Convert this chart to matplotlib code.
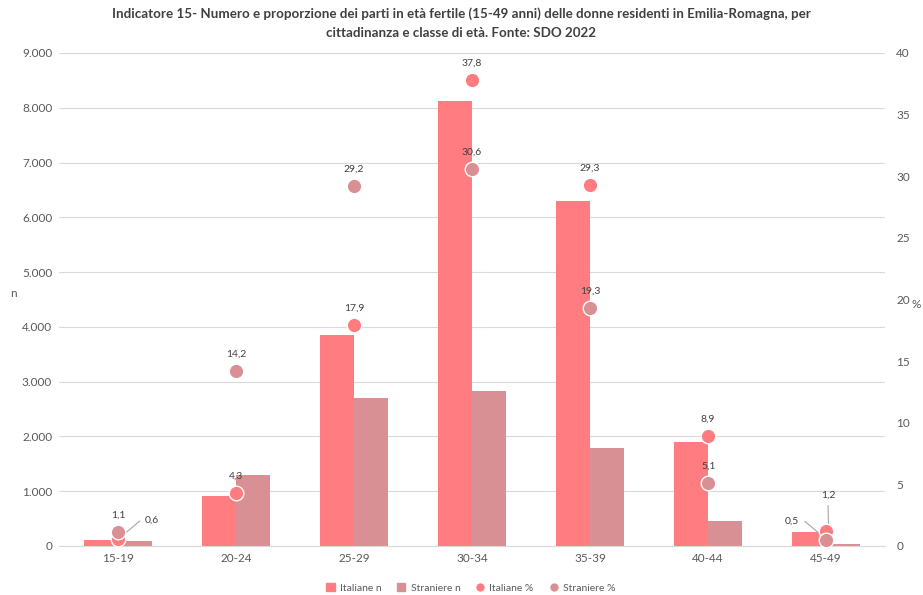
import matplotlib
matplotlib.use("Agg")
import matplotlib.pyplot as plt
import numpy as np
from matplotlib.ticker import FuncFormatter
from matplotlib.lines import Line2D
from matplotlib.patches import Patch

plt.rcParams['font.family'] = ['Lato', 'DejaVu Sans']

categories = ["15-19", "20-24", "25-29", "30-34", "35-39", "40-44", "45-49"]
italiane_n = [110, 920, 3850, 8120, 6300, 1900, 250]
straniere_n = [90, 1300, 2700, 2820, 1780, 460, 40]
italiane_pct = [0.6, 4.3, 17.9, 37.8, 29.3, 8.9, 1.2]
straniere_pct = [1.1, 14.2, 29.2, 30.6, 19.3, 5.1, 0.5]

c_it = "#FF7C80"
c_st = "#D99094"
txt = "#595959"

fig = plt.figure(figsize=(9.23, 5.95), dpi=100)
ax = fig.add_axes([0.064, 0.0824, 0.895, 0.8286])
ax2 = ax.twinx()

x = np.arange(len(categories))
w = 0.29
ax.bar(x - w/2, italiane_n, width=w, color=c_it, zorder=2)
ax.bar(x + w/2, straniere_n, width=w, color=c_st, zorder=2)

ax.set_ylim(0, 9000)
ax.set_yticks(np.arange(0, 9001, 1000))
ax.yaxis.set_major_formatter(FuncFormatter(lambda v, p: f"{int(v):,}".replace(",", ".")))
ax.grid(axis='y', color="#D9D9D9", linewidth=0.8, zorder=0)
ax.set_axisbelow(True)
ax.set_xlim(-0.5, len(categories) - 0.5)
ax.set_xticks(x)
ax.set_xticklabels(categories)
for a in (ax, ax2):
    for s in a.spines.values():
        s.set_visible(False)
    a.tick_params(length=0, colors=txt, labelsize=8.5)
ax.spines['bottom'].set_visible(True)
ax.spines['bottom'].set_color("#D9D9D9")
ax.tick_params(axis='x', pad=5)
ax.tick_params(axis='y', pad=5)
ax2.tick_params(axis='y', pad=8)

ax2.set_ylim(0, 40)
ax2.set_yticks(np.arange(0, 41, 5))
ax2.scatter(x, italiane_pct, s=110, color=c_it, edgecolor="white", linewidth=1, zorder=4)
ax2.scatter(x, straniere_pct, s=110, color=c_st, edgecolor="white", linewidth=1, zorder=4)

def fmt(v):
    return f"{v:.1f}".replace(".", ",")

lead = dict(arrowstyle="-", color="#A6A6A6", lw=0.8)
lab_kw = dict(fontsize=7.5, color="#404040", ha="center", va="bottom")
for i in range(len(categories)):
    for vals, which in ((italiane_pct, "it"), (straniere_pct, "st")):
        v = vals[i]
        if i == 0 and which == "it":
            ax2.annotate(fmt(v), xy=(x[i] + 0.05, v + 0.35), xytext=(x[i] + 0.29, v + 1.5),
                         fontsize=7.5, color="#404040", ha="center", va="center",
                         arrowprops=dict(**lead, connectionstyle="angle,angleA=0,angleB=40,rad=0",
                                         shrinkA=2, shrinkB=0))
        elif i == 6 and which == "st":
            ax2.annotate(fmt(v), xy=(x[i] - 0.05, v + 0.45), xytext=(x[i] - 0.29, v + 1.5),
                         fontsize=7.5, color="#404040", ha="center", va="center",
                         arrowprops=dict(**lead, connectionstyle="angle,angleA=0,angleB=140,rad=0",
                                         shrinkA=2, shrinkB=0))
        elif i == 6 and which == "it":
            ax2.annotate(fmt(v), xy=(x[i] + 0.02, v + 0.2), xytext=(x[i] + 0.015, v + 2.9),
                         fontsize=7.5, color="#404040", ha="center", va="center",
                         arrowprops=dict(**lead, shrinkA=2, shrinkB=0))
        else:
            ax2.annotate(fmt(v), xy=(x[i], v), xytext=(0, 9), textcoords="offset points", **lab_kw)

ax.set_ylabel("n", rotation=0, color=txt, fontsize=8.5)
ax.yaxis.set_label_coords(-0.055, 0.5)
ax2.set_ylabel("%", rotation=0, color=txt, fontsize=8.5)
ax2.yaxis.set_label_coords(1.038, 0.5)

fig.suptitle("Indicatore 15- Numero e proporzione dei parti in età fertile (15-49 anni) delle donne residenti in Emilia-Romagna, per\ncittadinanza e classe di età. Fonte: SDO 2022",
             fontsize=9.6, fontweight="bold", color="#404040", y=0.988, linespacing=1.7)

handles = [Patch(color=c_it, label="Italiane n"), Patch(color=c_st, label="Straniere n"),
           Line2D([], [], marker='o', ls='', color=c_it, markersize=5, label="Italiane %"),
           Line2D([], [], marker='o', ls='', color=c_st, markersize=5, label="Straniere %")]
fig.legend(handles=handles, loc="lower center", ncol=4, frameon=False, fontsize=7.5,
           bbox_to_anchor=(0.51, -0.012), handlelength=0.8, handleheight=0.8,
           columnspacing=1.5, handletextpad=0.5, labelcolor=txt)

fig.savefig("out.png", dpi=100)
